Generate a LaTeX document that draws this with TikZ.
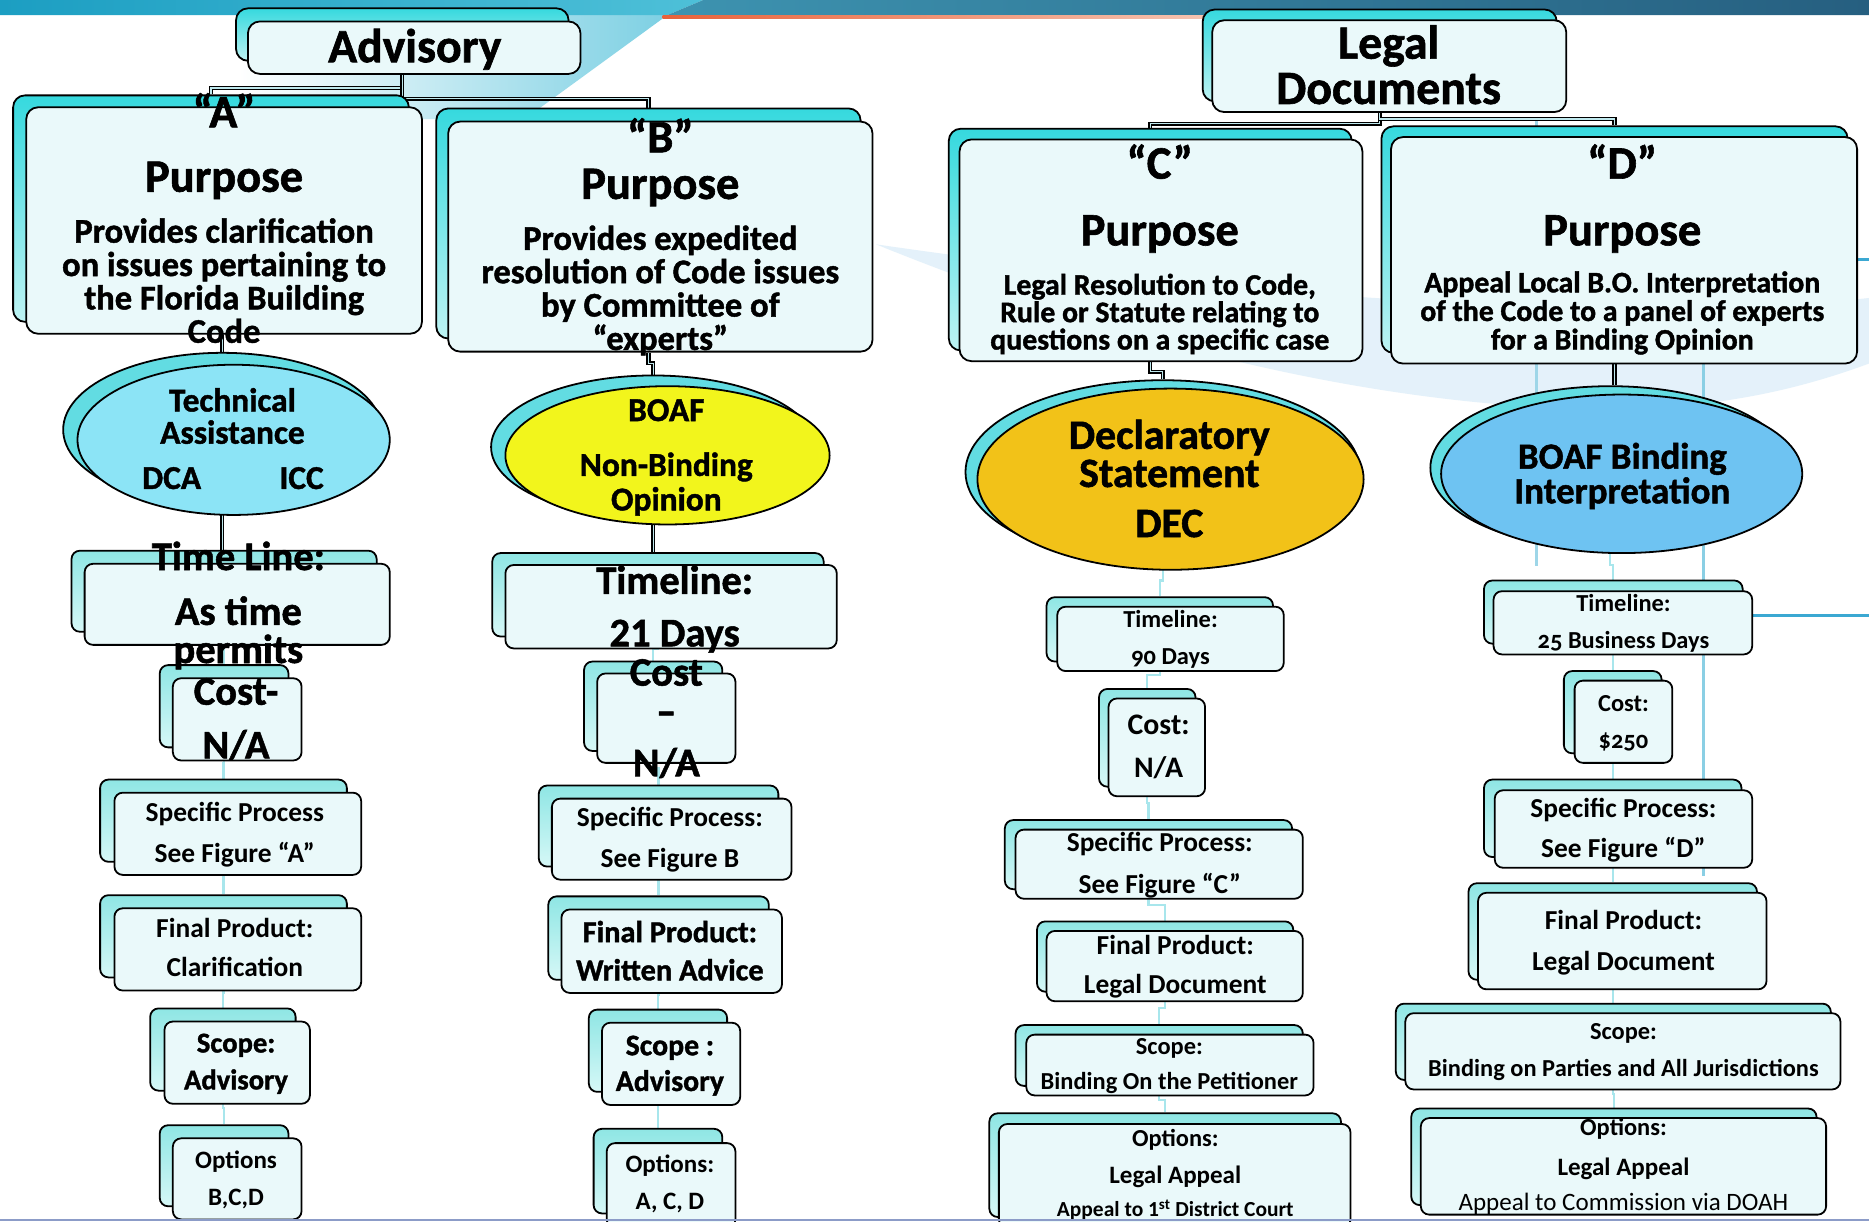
\documentclass[tikz,border=0pt]{standalone}
\usepackage{fontspec}
\setmainfont{Carlito}
\newfontfamily\heavyfont{Carlito}[FakeBold=1.3]
\usetikzlibrary{shapes.geometric,calc}
\pgfdeclarelayer{deco}\pgfdeclarelayer{bg}\pgfdeclarelayer{top}
\pgfsetlayers{deco,bg,main,top}
\definecolor{hdrTop}{HTML}{36D9DE}
\definecolor{hdrBot}{HTML}{BDF3F3}
\definecolor{lowTop}{HTML}{8FE6E4}
\definecolor{lowBot}{HTML}{D6F8F7}
\definecolor{frontFill}{HTML}{EAF9FA}
\definecolor{connFill}{HTML}{BFE9EE}
\definecolor{lconnC}{HTML}{A8E6EC}
\definecolor{ellBack}{HTML}{62DCE2}
\definecolor{ellA}{HTML}{8CE4F6}
\definecolor{ellB}{HTML}{F2F51C}
\definecolor{ellC}{HTML}{F2C218}
\definecolor{ellD}{HTML}{6EC3F2}
\definecolor{wedge}{HTML}{7DD0E3}
\definecolor{swoosh}{HTML}{E4F1FA}
\definecolor{bandA}{HTML}{1C9EC2}
\definecolor{bandB}{HTML}{4EC0D8}
\definecolor{bandC}{HTML}{3D93B0}
\definecolor{bandD}{HTML}{265F80}
\definecolor{orangeA}{HTML}{E8623A}
\definecolor{orangeB}{HTML}{F8D7C8}
\definecolor{lineA}{HTML}{9ED6E8}
\definecolor{lineB}{HTML}{8ACFE4}
\definecolor{lineC}{HTML}{3BA8D2}
\definecolor{bottomLine}{HTML}{8C9CC8}
\newcommand\fsz[1]{\fontsize{#1}{#1}\selectfont\bfseries}
\newcommand\fsh[1]{\heavyfont\fontsize{#1}{#1}\selectfont\bfseries}
\newcommand\fsr[1]{\fontsize{#1}{#1}\selectfont}
\newcommand\onum{\addfontfeature{Numbers=OldStyle}}
\tikzset{
 hdrback/.style={draw=black, line width=1.5pt, rounded corners=10pt, top color=hdrTop, bottom color=hdrBot, inner sep=0pt},
 hdrfront/.style={draw=black, line width=1.5pt, rounded corners=10pt, fill=frontFill, inner sep=0pt},
 lowback/.style={draw=black, line width=1.5pt, rounded corners=7pt, top color=lowTop, bottom color=lowBot, inner sep=0pt},
 lowfront/.style={draw=black, line width=1.5pt, rounded corners=7pt, fill=frontFill, inner sep=0pt},
 conn/.style={line width=1.2pt, draw=black, double=connFill, double distance=1.1pt},
 lconn/.style={line width=1.8pt, draw=lconnC},
 ebk/.style={ellipse, draw=black, line width=1.5pt, fill=ellBack, inner sep=0pt},
 efr/.style={ellipse, draw=black, line width=1.5pt, fill=#1, inner sep=0pt},
}
% double box: name, front x1 y1 x2 y2, back dx dy, kind
\newcommand\dbox[8]{%
 \pgfmathsetmacro\cx{(#2+#4)/2}\pgfmathsetmacro\cy{(#3+#5)/2}%
 \pgfmathsetmacro\bx{(#2+#4)/2+(#6)}\pgfmathsetmacro\by{(#3+#5)/2+(#7)}%
 \pgfmathsetmacro\bw{#4-#2}\pgfmathsetmacro\bh{#5-#3}%
 \node[#8back, minimum width=\bw pt, minimum height=\bh pt] (#1b) at (\bx,\by) {};
 \node[#8front, minimum width=\bw pt, minimum height=\bh pt] (#1) at (\cx,\cy) {};
}
% text line: name, x, y(center), size, text
\newcommand\tl[5]{\node[anchor=base, inner sep=0pt, font=\fsz{#4}] (#1) at (#2,{#3+0.33*#4}) {#5};}
\newcommand\thv[5]{\node[anchor=base, inner sep=0pt, font=\fsh{#4}] (#1) at (#2,{#3+0.33*#4}) {#5};}
\newcommand\tlr[5]{\node[anchor=base, inner sep=0pt, font=\fsr{#4}] (#1) at (#2,{#3+0.33*#4}) {#5};}
\newcommand\lcn[2]{\draw[lconn] (#1.south) |- ($(#1.south)!.5!(#2.north)$) -| (#2.north);}

\begin{document}
\begin{tikzpicture}[x=1pt,y=-1pt]
\useasboundingbox (0,0) rectangle (1568,1025);
\begin{pgfonlayer}{deco}
 \fill[white] (0,0) rectangle (1568,1025);
 \shade[left color=white, right color=wedge] (200,12.6) -- (560,12.6) -- (440,100) -- (200,100) -- cycle;
 \fill[swoosh] (735,205) .. controls (900,272) and (1100,332) .. (1300,342) .. controls (1420,348) and (1500,330) .. (1568,305) -- (1568,250) .. controls (1400,268) and (1100,258) .. (735,205) -- cycle;
 \shade[left color=bandA, right color=bandB] (0,0) -- (590,0) -- (560,12.6) -- (0,12.6) -- cycle;
 \shade[left color=bandC, right color=bandD] (590,0) -- (1568,0) -- (1568,12.6) -- (560,12.6) -- cycle;
 \shade[left color=orangeA, right color=orangeB] (556,12.6) rectangle (1100,15.2);
 \draw[line width=2.2pt, lineA] (1289,98) -- (1289,475);
 \draw[line width=2.2pt, lineB] (1429,300) -- (1429,735);
 \draw[line width=2.5pt, lineC] (1470,516) -- (1568,516);
 \draw[line width=2.5pt, lineC] (1556,218) -- (1568,218);
\end{pgfonlayer}

% ---------- header boxes ----------
\dbox{adv}{208}{18}{487}{62}{-10}{-11}{hdr}
\dbox{leg}{1017}{17}{1314}{94}{-8}{-9}{hdr}
\dbox{A}{22}{90}{354}{280}{-11}{-10}{hdr}
\dbox{B}{376}{102}{732}{295}{-10}{-11}{hdr}
\dbox{C}{805}{117}{1143}{303}{-9}{-9}{hdr}
\dbox{D}{1167}{115}{1558}{305}{-8}{-9}{hdr}

% ---------- ellipses ----------
\node[ebk, minimum width=267pt, minimum height=129pt] (Aeb) at (186.5,360.5) {};
\node[efr=ellA, minimum width=262pt, minimum height=126pt] (Ae) at (196,369) {};
\node[ebk, minimum width=272pt, minimum height=120pt] (Beb) at (548,375) {};
\node[efr=ellB, minimum width=272pt, minimum height=116pt] (Be) at (560,382) {};
\node[ebk, minimum width=331pt, minimum height=154pt] (Ceb) at (975.5,396) {};
\node[efr=ellC, minimum width=324pt, minimum height=152pt] (Ce) at (982,402) {};
\node[ebk, minimum width=302pt, minimum height=137pt] (Deb) at (1351,392.5) {};
\node[efr=ellD, minimum width=303pt, minimum height=133pt] (De) at (1360.5,397.5) {};

% ---------- lower boxes ----------
\dbox{Atl}{71}{473}{327}{541}{-11}{-11}{low}
\dbox{Acost}{145}{569}{253}{638}{-11}{-11}{low}
\dbox{Asp}{96}{665}{303}{734}{-12}{-11}{low}
\dbox{Afp}{96}{762}{303}{831}{-12}{-11}{low}
\dbox{Asc}{138}{857}{260}{926}{-12}{-11}{low}
\dbox{Aop}{145}{955}{253}{1023}{-11}{-11}{low}

\dbox{Btl}{424}{474}{702}{544}{-11}{-10}{low}
\dbox{Bcost}{501}{565}{617}{640}{-11}{-10}{low}
\dbox{Bsp}{463}{670}{664}{738}{-11}{-11}{low}
\dbox{Bfp}{471}{763}{656}{833}{-11}{-11}{low}
\dbox{Bsc}{505}{858}{621}{927}{-11}{-11}{low}
\dbox{Bop}{509}{959}{617}{1030}{-11}{-12}{low}

\dbox{Ctl}{887}{509}{1077}{563}{-9}{-8}{low}
\dbox{Ccost}{930}{586}{1011}{668}{-8}{-8}{low}
\dbox{Csp}{852}{696}{1093}{754}{-9}{-8}{low}
\dbox{Cfp}{878}{781}{1093}{840}{-8}{-8}{low}
\dbox{Csc}{861}{868}{1102}{919}{-9}{-8}{low}
\dbox{Cop}{838}{943}{1133}{1030}{-8}{-9}{low}

\dbox{Dtl}{1253}{496}{1470}{549}{-8}{-9}{low}
\dbox{Dcost}{1321}{571}{1403}{640}{-9}{-8}{low}
\dbox{Dsp}{1254}{663}{1470}{728}{-9}{-9}{low}
\dbox{Dfp}{1240}{749}{1482}{830}{-8}{-8}{low}
\dbox{Dsc}{1179}{850}{1544}{914}{-8}{-8}{low}
\dbox{Dop}{1192}{938}{1532}{1019}{-8}{-8}{low}

% ---------- connectors ----------
\begin{pgfonlayer}{bg}
\draw[conn] (adv.south -| advb.south) -- ++(0,11) -| (Ab.north);
\draw[conn] (adv.south -| advb.south) -- ++(0,20) -| (Bb.north);
\draw[conn] (leg.south -| legb.south) -- ++(0,9) -| (Cb.north);
\draw[conn] (leg.south -| legb.south) -- ++(0,5) -| (Db.north);
\draw[conn] (A.south -| Aeb.north) -- (Aeb.north);
\draw[conn] (Aeb.south) -- (Aeb.south |- Atlb.north);
\draw[conn] (B.south -| Bb.south) -- ++(0,9) -| (Beb.north);
\draw[conn] (Beb.south) -- (Beb.south |- Btlb.north);
\draw[conn] (C.south -| Cb.south) -- ++(0,8) -| (Ceb.north);
\draw[conn] (D.south -| Db.south) -- (Db.south |- Deb.north);
\lcn{Atlb}{Acostb}\lcn{Acostb}{Aspb}\lcn{Aspb}{Afpb}\lcn{Afpb}{Ascb}\lcn{Ascb}{Aopb}
\lcn{Btlb}{Bcostb}\lcn{Bcostb}{Bspb}\lcn{Bspb}{Bfpb}\lcn{Bfpb}{Bscb}\lcn{Bscb}{Bopb}
\lcn{Ceb}{Ctlb}\lcn{Ctlb}{Ccostb}\lcn{Ccostb}{Cspb}\lcn{Cspb}{Cfpb}\lcn{Cfpb}{Cscb}\lcn{Cscb}{Copb}
\lcn{Deb}{Dtlb}\lcn{Dtlb}{Dcostb}\lcn{Dcostb}{Dspb}\lcn{Dspb}{Dfpb}\lcn{Dfpb}{Dscb}\lcn{Dscb}{Dopb}
\end{pgfonlayer}

% ---------- texts ----------
\thv{advT}{348}{39}{40}{Advisory}
\thv{legT1}{1165}{36}{40}{Legal}
\thv{legT2}{1165}{74}{40}{Documents}

\thv{AT1}{188}{94}{39}{“A”}
\thv{AT2}{188}{148}{39}{Purpose}
\thv{AT3}{188}{194}{29}{Provides clarification}
\thv{AT4}{188}{222}{29}{on issues pertaining to}
\thv{AT5}{188}{250}{29}{the Florida Building}
\thv{AT6}{188}{278}{29}{Code}

\thv{BT1}{554}{115}{39}{“B”}
\thv{BT2}{554}{154}{39}{Purpose}
\thv{BT3}{554}{200}{29}{Provides expedited}
\thv{BT4}{554}{228}{29}{resolution of Code issues}
\thv{BT5}{554}{256}{29}{by Committee of}
\thv{BT6}{554}{284}{29}{“experts”}

\thv{CT1}{973}{137}{39}{“C”}
\thv{CT2}{973}{193}{39}{Purpose}
\thv{CT3}{973}{239}{25}{Legal Resolution to Code,}
\thv{CT4}{973}{262}{25}{Rule or Statute relating to}
\thv{CT5}{973}{285}{25}{questions on a specific case}

\thv{DT1}{1361}{137}{39}{“D”}
\thv{DT2}{1361}{193}{39}{Purpose}
\thv{DT3}{1361}{237}{25}{Appeal Local B.O. Interpretation}
\thv{DT4}{1361}{261}{25}{of the Code to a panel of experts}
\thv{DT5}{1361}{285}{25}{for a Binding Opinion}

\thv{AeT1}{195}{336}{28}{Technical}
\thv{AeT2}{195}{363}{28}{Assistance}
\thv{AeT3}{144}{401}{28}{DCA}
\thv{AeT4}{253}{401}{28}{ICC}
\thv{BeT1}{559}{344}{28}{BOAF}
\thv{BeT2}{559}{390}{28}{Non-Binding}
\thv{BeT3}{559}{419}{28}{Opinion}
\thv{CeT1}{981}{365}{35}{Declaratory}
\thv{CeT2}{981}{397}{35}{Statement}
\thv{CeT3}{981}{439}{35}{DEC}
\thv{DeT1}{1361}{383}{31}{BOAF Binding}
\thv{DeT2}{1361}{412}{31}{Interpretation}

\thv{AtlT1}{200}{467}{34}{Time Line:}
\thv{AtlT2}{200}{513}{34}{As time}
\thv{AtlT3}{200}{545}{34}{permits}
\thv{AcT1}{198}{580}{34}{Cost-}
\thv{AcT2}{198}{625}{34}{N/A}
\thv{BtlT1}{566}{487}{34}{Timeline:}
\thv{BtlT2}{566}{531}{34}{21 Days}
\thv{BcT1}{559}{564}{34}{Cost}
\thv{BcT2}{559}{597}{34}{–}
\thv{BcT3}{559}{640}{34}{N/A}

\tl{AsT1}{197}{682}{23}{Specific Process}
\tl{AsT2}{197}{716}{23}{See Figure “A”}
\tl{AfT1}{197}{779}{23}{Final Product:}
\tl{AfT2}{197}{812}{23}{Clarification}
\thv{AscT1}{198}{875}{24}{Scope:}
\thv{AscT2}{198}{906}{24}{Advisory}
\tl{AoT1}{198}{973}{21}{Options}
\tl{AoT2}{198}{1004}{21}{B,C,D}

\tl{BsT1}{562}{686}{23}{Specific Process:}
\tl{BsT2}{562}{720}{23}{See Figure B}
\thv{BfT1}{562}{782}{25.5}{Final Product:}
\thv{BfT2}{562}{814}{25.5}{Written Advice}
\thv{BscT1}{562}{877}{25}{Scope :}
\thv{BscT2}{562}{907}{25}{Advisory}
\tl{BoT1}{562}{977}{21}{Options:}
\tl{BoT2}{562}{1008}{21}{A, C, D}

\tl{CtlT1}{982}{520}{20.5}{Timeline:}
\tl{CtlT2}{982}{551}{20.5}{\onum 90 Days}
\tl{CcT1}{972}{608}{25}{Cost:}
\tl{CcT2}{972}{644}{25}{N/A}
\tl{CsT1}{973}{707}{23}{Specific Process:}
\tl{CsT2}{973}{742}{23}{See Figure “C”}
\tl{CfT1}{986}{793}{23}{Final Product:}
\tl{CfT2}{986}{826}{23}{Legal Document}
\tl{CscT1}{981}{878}{20.5}{Scope:}
\tl{CscT2}{981}{907}{20.5}{Binding On the Petitioner}
\tl{CoT1}{986}{955}{20.5}{Options:}
\tl{CoT2}{986}{986}{21}{Legal Appeal}
\tl{CoT3}{986}{1015}{18}{Appeal to 1\textsuperscript{st} District Court}

\tl{DtlT1}{1362}{506}{20.5}{Timeline:}
\tl{DtlT2}{1362}{537}{20.5}{\onum 25 Business Days}
\tl{DcT1}{1362}{590}{20.5}{Cost:}
\tl{DcT2}{1362}{621}{20.5}{\onum \$250}
\tl{DsT1}{1362}{678}{23}{Specific Process:}
\tl{DsT2}{1362}{712}{23}{See Figure “D”}
\tl{DfT1}{1362}{772}{23}{Final Product:}
\tl{DfT2}{1362}{807}{23}{Legal Document}
\tl{DscT1}{1362}{865}{20.5}{Scope:}
\tl{DscT2}{1362}{896}{20.5}{Binding on Parties and All Jurisdictions}
\tl{DoT1}{1362}{946}{20.5}{Options:}
\tl{DoT2}{1362}{979}{21}{Legal Appeal}
\tlr{DoT3}{1362}{1009}{21}{Appeal to Commission via DOAH}

\begin{pgfonlayer}{top}
 \draw[line width=2.5pt, bottomLine] (0,1023.5) -- (1568,1023.5);
\end{pgfonlayer}
\end{tikzpicture}
\end{document}
